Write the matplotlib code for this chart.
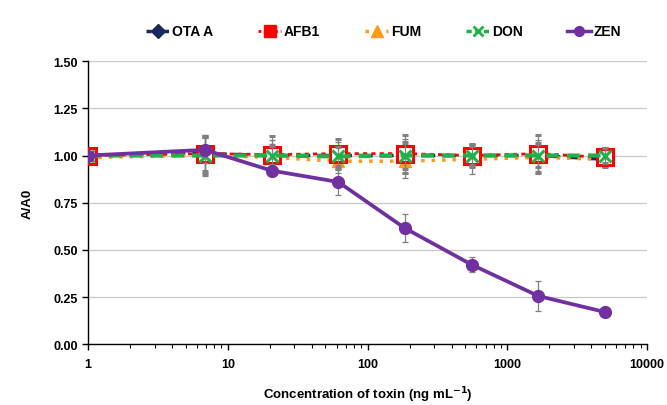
import matplotlib
matplotlib.use("Agg")
import matplotlib.pyplot as plt
import numpy as np
from matplotlib.ticker import LogLocator, NullFormatter, FixedLocator, FixedFormatter
from matplotlib.lines import Line2D

plt.rcParams['font.family'] = ['Liberation Sans', 'DejaVu Sans']
plt.rcParams['font.weight'] = 'bold'
plt.rcParams['mathtext.default'] = 'bf'

conc = [1, 6.86, 20.6, 61.7, 185.2, 555.6, 1666.7, 5000]

ota = [1.00, 1.01, 1.00, 1.00, 1.00, 1.00, 1.00, 0.98]
ota_err = [0.0, 0.10, 0.08, 0.07, 0.09, 0.06, 0.08, 0.04]
afb1 = [1.00, 1.01, 1.005, 1.01, 1.01, 1.00, 1.01, 0.99]
afb1_err = [0.0, 0.09, 0.10, 0.08, 0.10, 0.06, 0.10, 0.05]
fum = [0.99, 1.00, 0.99, 0.97, 0.97, 0.98, 0.99, 0.98]
fum_err = [0.0, 0.11, 0.07, 0.06, 0.09, 0.08, 0.08, 0.03]
don = [1.00, 1.00, 1.00, 0.995, 1.00, 1.00, 1.00, 1.00]
don_err = [0.0, 0.10, 0.05, 0.05, 0.07, 0.05, 0.06, 0.04]
zen = [1.00, 1.03, 0.92, 0.86, 0.615, 0.422, 0.256, 0.171]
zen_err = [0.0, 0.07, 0.015, 0.07, 0.075, 0.04, 0.08, 0.01]

yticks = [0.0, 0.25, 0.5, 0.75, 1.0, 1.25, 1.5]
ytick_labels = ["0.00", "0.25", "0.50", "0.75", "1.00", "1.25", "1.50"]
xticks = [1, 10, 100, 1000, 10000]
xtick_labels = ["1", "10", "100", "1000", "10000"]
series_labels = ["OTA A", "AFB1", "FUM", "DON", "ZEN"]

fig = plt.figure(figsize=(6.67, 4.06), dpi=100)
ax = fig.add_axes([0.132, 0.1495, 0.838, 0.6975])

errkw = dict(ecolor='#808080', elinewidth=0.9, capsize=2.5, capthick=0.9)

ax.errorbar(conc, ota, yerr=ota_err, color='#1a2a5e', ls=(0, (4, 2)), lw=2.5,
            marker='D', ms=7, mfc='#1a2a5e', mec='#1a2a5e', label=series_labels[0], zorder=3, **errkw)
ax.errorbar(conc, afb1, yerr=afb1_err, color='#ff0000', ls=(0, (1.5, 1.5)), lw=2.0,
            marker='s', ms=11, mfc='white', mec='#ff0000', mew=2.2, label=series_labels[1], zorder=4, **errkw)
ax.errorbar(conc, fum, yerr=fum_err, color='#ff9a1a', ls=(0, (1, 2)), lw=2.5,
            marker='^', ms=8, mfc='#ff9a1a', mec='#ff9a1a', label=series_labels[2], zorder=3.5, **errkw)
ax.errorbar(conc, don, yerr=don_err, color='#22b04a', ls=(0, (3, 2)), lw=3.0,
            marker='x', ms=8, mew=2.2, mec='#22b04a', label=series_labels[3], zorder=5, **errkw)
ax.errorbar(conc, zen, yerr=zen_err, color='#7030a0', ls='-', lw=2.7,
            marker='o', ms=8.5, mfc='#7030a0', mec='#7030a0', label=series_labels[4], zorder=6, **errkw)

ax.set_xscale('log')
ax.set_xlim(1, 10000)
ax.set_ylim(0, 1.5)
ax.xaxis.set_major_locator(FixedLocator(xticks))
ax.xaxis.set_major_formatter(FixedFormatter(xtick_labels))
ax.xaxis.set_minor_locator(LogLocator(base=10, subs=np.arange(2, 10)))
ax.xaxis.set_minor_formatter(NullFormatter())
ax.yaxis.set_major_locator(FixedLocator(yticks))
ax.yaxis.set_major_formatter(FixedFormatter(ytick_labels))

ax.grid(axis='y', color='#c8c8c8', lw=0.9, zorder=0)
ax.set_axisbelow(True)
for s in ['top', 'right']:
    ax.spines[s].set_visible(False)
for s in ['left', 'bottom']:
    ax.spines[s].set_linewidth(1.0)
    ax.spines[s].set_color('black')

ax.tick_params(axis='both', which='major', direction='out', length=4, width=1, labelsize=9)
ax.tick_params(axis='x', which='major', pad=6)
ax.tick_params(axis='x', which='minor', direction='out', length=3, width=0.8)
for lbl in ax.get_xticklabels() + ax.get_yticklabels():
    lbl.set_fontweight('bold')

ax.set_ylabel('A/A0', fontsize=9.5, fontweight='bold', labelpad=14)
ax.set_xlabel('Concentration of toxin (ng mL$^{-1}$)', fontsize=9.5, fontweight='bold', labelpad=10)

leg_handles = [
    Line2D([], [], color='#1a2a5e', ls=(0, (1.5, 1)), lw=2.5, marker='D', ms=7),
    Line2D([], [], color='#ff0000', ls=(0, (1, 1)), lw=2.0, marker='s', ms=9),
    Line2D([], [], color='#ff9a1a', ls=(0, (1, 2)), lw=2.5, marker='^', ms=8),
    Line2D([], [], color='#22b04a', ls=(0, (1.5, 1)), lw=2.5, marker='x', ms=7, mew=2),
    Line2D([], [], color='#7030a0', ls='-', lw=2.5, marker='o', ms=7),
]
fig.legend(leg_handles, series_labels, loc='center', bbox_to_anchor=(0.575, 0.92), ncol=5,
           frameon=False, handlelength=1.7, handletextpad=0.2,
           columnspacing=3.2, prop={'weight': 'bold', 'size': 10})

fig.savefig('out.png', dpi=100)
